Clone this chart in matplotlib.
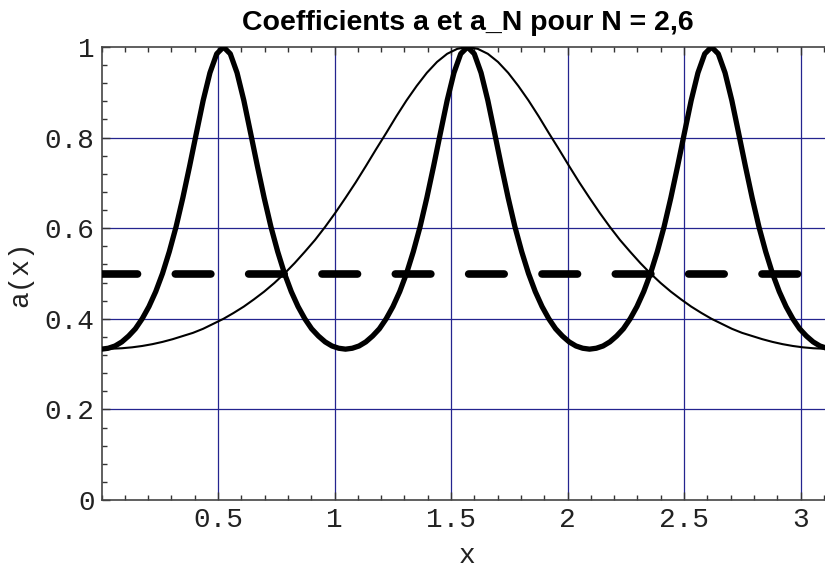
import matplotlib
matplotlib.use('Agg')
import matplotlib.pyplot as plt
from matplotlib.ticker import MultipleLocator, FixedLocator
import numpy as np

# Valeurs (a(x) sur [0, pi], courbe fine)
a_vals = [0.333, 0.334, 0.335, 0.337, 0.340, 0.344, 0.349, 0.355, 0.362, 0.369,
          0.378, 0.389, 0.400, 0.413, 0.427, 0.443, 0.460, 0.479, 0.500, 0.523,
          0.548, 0.574, 0.603, 0.634, 0.667, 0.701, 0.737, 0.774, 0.810, 0.847,
          0.882, 0.914, 0.943, 0.967, 0.985, 0.996, 1.000, 0.996, 0.985, 0.967,
          0.943, 0.914, 0.882, 0.847, 0.810, 0.774, 0.737, 0.701, 0.667, 0.634,
          0.603, 0.574, 0.548, 0.523, 0.500, 0.479, 0.460, 0.443, 0.427, 0.413,
          0.400, 0.389, 0.378, 0.369, 0.362, 0.355, 0.349, 0.344, 0.340, 0.337,
          0.335, 0.334, 0.333]

# a_N (courbe epaisse), trois bosses sur [0, pi]
aN_vals = [0.333, 0.335, 0.340, 0.349, 0.362, 0.378, 0.400, 0.427, 0.460, 0.500,
           0.548, 0.603, 0.667, 0.737, 0.810, 0.882, 0.943, 0.985, 1.000, 0.985,
           0.943, 0.882, 0.810, 0.737, 0.667, 0.603, 0.548, 0.500, 0.460, 0.427,
           0.400, 0.378, 0.362, 0.349, 0.340, 0.335, 0.333,
           0.335, 0.340, 0.349, 0.362, 0.378, 0.400, 0.427, 0.460, 0.500,
           0.548, 0.603, 0.667, 0.737, 0.810, 0.882, 0.943, 0.985, 1.000, 0.985,
           0.943, 0.882, 0.810, 0.737, 0.667, 0.603, 0.548, 0.500, 0.460, 0.427,
           0.400, 0.378, 0.362, 0.349, 0.340, 0.335, 0.333,
           0.335, 0.340, 0.349, 0.362, 0.378, 0.400, 0.427, 0.460, 0.500,
           0.548, 0.603, 0.667, 0.737, 0.810, 0.882, 0.943, 0.985, 1.000, 0.985,
           0.943, 0.882, 0.810, 0.737, 0.667, 0.603, 0.548, 0.500, 0.460, 0.427,
           0.400, 0.378, 0.362, 0.349, 0.340, 0.335, 0.333]

# a_2 constant (tirets)
a2_x = [0.0, np.pi]
a2_vals = [0.5, 0.5]

x_a = np.linspace(0, np.pi, len(a_vals))
x_aN = np.linspace(0, np.pi, len(aN_vals))

x_ticks = [0.5, 1, 1.5, 2, 2.5, 3]
x_tick_labels = ['0.5', '1', '1.5', '2', '2.5', '3']
y_ticks = [0, 0.2, 0.4, 0.6, 0.8, 1]
y_tick_labels = ['0', '0.2', '0.4', '0.6', '0.8', '1']

mono = 'Liberation Mono'

fig = plt.figure(figsize=(8.25, 5.69), dpi=100)
# l'axe va jusqu'a pi, un peu au dela du bord de l'image
ax = fig.add_axes([101.5 / 825, 69 / 569, 732 / 825, 453 / 569])

# grille bleue
for gx in x_ticks:
    ax.axvline(gx, color='#24248f', linewidth=0.9, zorder=1)
for gy in y_ticks[1:-1]:
    ax.axhline(gy, color='#24248f', linewidth=0.9, zorder=1)

ax.plot(x_a, a_vals, color='black', linewidth=1.5, zorder=3)
ax.plot(x_aN, aN_vals, color='black', linewidth=3.8, zorder=4,
        solid_joinstyle='round')
ax.plot(a2_x, a2_vals, color='black', linewidth=5.5, zorder=3,
        dashes=(4.65, 4.95), dash_capstyle='round')

ax.set_xlim(0, np.pi)
ax.set_ylim(0, 1)

ax.xaxis.set_major_locator(FixedLocator(x_ticks))
ax.set_xticklabels(x_tick_labels, fontfamily=mono, fontsize=20, color='#222222')
ax.yaxis.set_major_locator(FixedLocator(y_ticks))
ax.set_yticklabels(y_tick_labels, fontfamily=mono, fontsize=20, color='#222222')
ax.xaxis.set_minor_locator(MultipleLocator(0.1))
ax.yaxis.set_minor_locator(MultipleLocator(0.04))

ax.tick_params(which='both', direction='in', top=True, right=False,
               color='#333333', width=1.0)
ax.tick_params(which='major', length=6, pad=5)
ax.tick_params(which='minor', length=3.5)

for side in ['left', 'bottom', 'top']:
    ax.spines[side].set_color('#444444')
    ax.spines[side].set_linewidth(1.2)
ax.spines['right'].set_visible(False)

ax.set_xlabel('x', fontfamily=mono, fontsize=20, labelpad=7, color='#222222')
ax.set_ylabel('a(x)', fontfamily=mono, fontsize=20, labelpad=8, color='#222222')
ax.set_title('Coefficients a et a_N pour N = 2,6', fontfamily='Liberation Sans',
             fontweight='bold', fontsize=20.5, pad=12)

plt.savefig('out.png', dpi=100)
